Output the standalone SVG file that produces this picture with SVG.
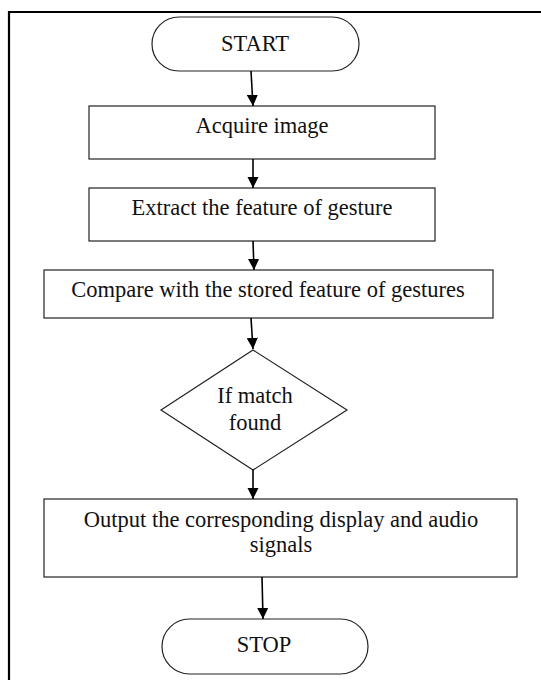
<svg xmlns="http://www.w3.org/2000/svg" width="541" height="680" viewBox="0 0 541 680">
<style>
.shape{fill:#fff;stroke:#222;stroke-width:1.2}
.lbl{font-family:"Liberation Serif","Times New Roman",serif;font-size:22.5px;fill:#111;text-anchor:middle}
.conn{stroke:#000;stroke-width:1.6;fill:none;marker-end:url(#ah)}
</style>
<defs>
<marker id="ah" viewBox="0 0 10 10" refX="10" refY="5" markerWidth="7" markerHeight="7" markerUnits="strokeWidth" orient="auto">
<path d="M0,0 L10,5 L0,10 z" fill="#000"/>
</marker>
</defs>
<rect width="541" height="680" fill="#fff"/>
<path d="M9,680 V12 H541" fill="none" stroke="#000" stroke-width="2.2"/>
<g id="start">
<rect class="shape" x="152" y="17" width="207" height="54" rx="27" ry="27"/>
<text class="lbl" x="255" y="51">START</text>
</g>
<g id="acquire">
<rect class="shape" x="89" y="106" width="346" height="53"/>
<text class="lbl" x="262" y="133">Acquire image</text>
</g>
<g id="extract">
<rect class="shape" x="89" y="188" width="346" height="53"/>
<text class="lbl" x="262" y="215">Extract the feature of gesture</text>
</g>
<g id="compare">
<rect class="shape" x="44" y="270" width="449" height="48"/>
<text class="lbl" x="268" y="297">Compare with the stored feature of gestures</text>
</g>
<g id="decision">
<polygon class="shape" points="253,350 347,410 253,470 161,410"/>
<text class="lbl" x="255" y="403">If match</text>
<text class="lbl" x="255" y="430">found</text>
</g>
<g id="output">
<rect class="shape" x="44" y="499" width="473" height="78"/>
<text class="lbl" x="281" y="527">Output the corresponding display and audio</text>
<text class="lbl" x="281" y="552">signals</text>
</g>
<g id="stop">
<rect class="shape" x="162" y="619" width="206" height="55" rx="27.5" ry="27.5"/>
<text class="lbl" x="264" y="652">STOP</text>
</g>
<g id="connectors">
<line class="conn" x1="251" y1="71" x2="253" y2="106"/>
<line class="conn" x1="253" y1="159" x2="253" y2="188"/>
<line class="conn" x1="253" y1="241" x2="254" y2="270"/>
<line class="conn" x1="251" y1="318" x2="253" y2="349"/>
<line class="conn" x1="253" y1="470" x2="253" y2="499"/>
<line class="conn" x1="262" y1="577" x2="263" y2="619"/>
</g>
</svg>
